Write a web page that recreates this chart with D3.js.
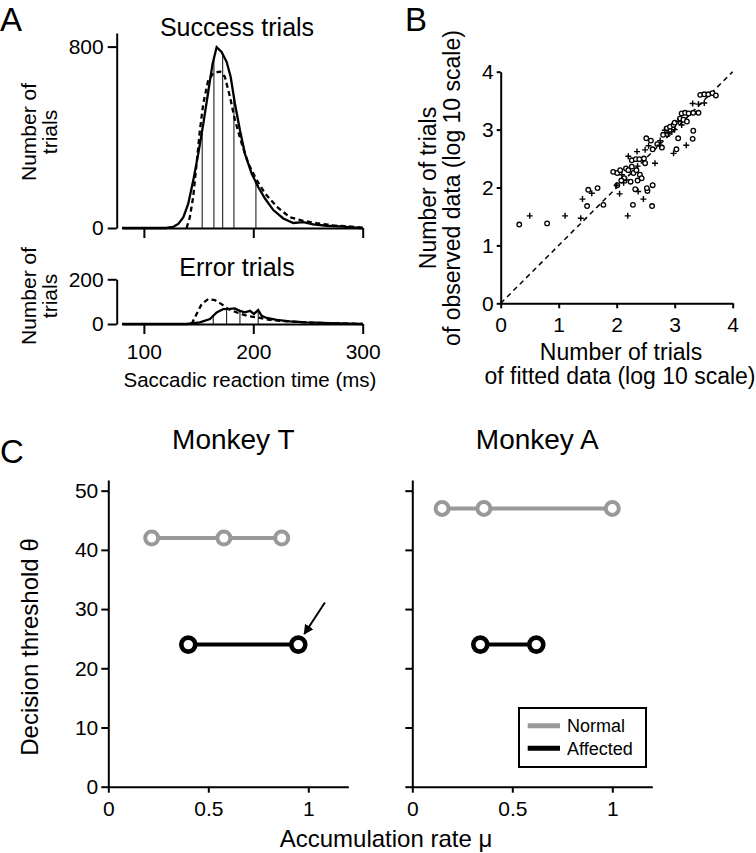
<!DOCTYPE html>
<html>
<head><meta charset="utf-8">
<title>Reaction time fits</title>
<style>
body { margin:0; background:#fff; }
svg { display:block; font-family:"Liberation Sans", Arial, Helvetica, sans-serif; }
.axis path, .axis line { stroke:#000; stroke-width:2; }
.axis text { font-size:21px; fill:#000; }
</style>
</head>
<body>
<svg width="756" height="853"></svg>
<script src="https://d3js.org/d3.v7.min.js"></script>
<script>
// ---- panel A: reaction time histograms (ms, number of trials) ----
var successObserved = [[80,0],[120,0],[126.8,5],[131.4,18],[136,47],[140.5,106],[145.1,209],[149.7,327],[154.3,459],
  [158.8,600],[162.8,725],[166.5,797],[171,776],[175.6,733],[179.3,667],[183.2,549],[187.8,431],[192.4,327],
  [198.5,240],[204.5,181],[210.7,130],[218.3,79],[227.4,42],[236.6,22],[245.7,26],[254.8,16],[267,10],[279,7],[297.6,0],[300,0]];
var successFitted = [[139,0],[142,47],[145.1,138],[148.2,285],[151.2,431],[154.3,549],[158.8,652],[163.4,682],
  [169.5,690],[174,667],[178.6,580],[183.2,477],[189.3,374],[195.4,285],[203,212],[210.7,153],[221.4,94],
  [233.5,47],[245.7,32],[257.9,21],[273.1,12],[294.5,4],[300,2]];
var successQuantiles = [153.3, 164, 172, 182.3, 202.4];

var errorObserved = [[80,0],[139,0],[151.2,7],[160.4,22],[166.5,52],[172.6,67],[178.6,68],[183,70],[187.8,59],
  [192.4,52],[197,59],[200.6,45],[204.5,62],[207.6,37],[212.2,27],[221.4,18],[233.5,12],[248.8,7],[270,4],[300,0]];
var errorFitted = [[143.6,0],[148.2,45],[152.8,89],[158.8,112],[164.9,107],[171,89],[177.1,67],[184.8,52],
  [193.9,37],[203,30],[215.2,18],[230.5,12],[251.8,6],[285.4,2],[300,0]];
var errorQuantiles = [163.4, 175.6, 187.8, 204.5];

var rtTicks = [100, 200, 300];

// ---- panel B: observed vs fitted counts (log10) ----
var fitCircles = [[0.32,1.36],[0.80,1.38],[1.49,1.68],[1.51,1.96],[1.67,1.99],[1.77,1.70],[2.01,2.04],[2.28,1.70],
  [2.32,1.97],[2.53,1.94],[2.61,1.68],[2.62,2.04],[1.94,2.27],[2.01,2.25],[2.06,2.30],[2.13,2.16],[2.16,2.33],
  [2.20,2.30],[2.26,2.36],[2.29,2.25],[2.34,2.30],[2.40,2.22],[2.43,2.16],[2.52,1.99],[2.08,2.12],[2.24,2.10],
  [2.36,2.12],[2.26,2.47],[2.33,2.49],[2.39,2.49],[2.47,2.50],[2.49,2.42],[2.51,2.85],[2.59,2.81],[2.62,2.66],
  [2.78,2.69],[2.70,2.75],[3.03,2.66],[3.31,2.84],[3.32,2.98],[3.06,2.85],[2.86,3.02],[2.92,3.05],[2.98,3.08],
  [2.80,2.91],[2.88,2.92],[3.00,3.12],[3.12,3.28],[3.18,3.29],[3.24,3.28],[3.32,3.29],[3.41,3.29],[3.09,3.19],
  [3.15,3.17],[3.21,3.14],[3.44,3.60],[3.51,3.61],[3.58,3.61],[3.65,3.63],[3.71,3.59]];
var fitPluses = [[0.50,1.51],[1.11,1.51],[1.38,1.47],[1.41,1.80],[1.57,1.90],[2.05,1.89],[2.19,1.51],[2.37,1.93],
  [2.46,1.80],[2.09,2.22],[2.17,2.13],[2.00,2.04],[2.12,2.08],[2.20,2.54],[2.36,2.37],[2.66,2.42],[2.35,2.62],
  [2.49,2.65],[2.55,2.72],[2.74,2.73],[2.75,2.81],[2.98,2.59],[3.20,2.73],[2.83,2.99],[2.89,2.94],[2.95,2.96],
  [3.00,3.00],[3.06,3.14],[3.12,3.08],[3.31,3.45],[3.41,3.44],[3.51,3.46]];
var logTicks = [0, 1, 2, 3, 4];

// ---- panel C: accumulation rate vs decision threshold ----
var monkeyTNormal = [[0.217,42],[0.578,42],[0.867,42]];
var monkeyTAffected = [[0.40,24],[0.95,24]];
var monkeyANormal = [[0.149,47],[0.358,47],[1.0,47]];
var monkeyAAffected = [[0.34,24],[0.62,24]];
var muTicks = [0, 0.5, 1];
var thetaTicks = [0, 10, 20, 30, 40, 50];
var arrowT = [[1.083,31.1],[0.98,25.8]];

var svg = d3.select("svg");

function label(x, y, txt, size, anchor) {
  return svg.append("text").attr("x", x).attr("y", y).attr("font-size", size)
    .attr("text-anchor", anchor || "middle").text(txt);
}
function vlabel(x, y, txt, size) {
  return svg.append("text").attr("transform", "translate(" + x + "," + y + ") rotate(-90)")
    .attr("font-size", size).attr("text-anchor", "middle").text(txt);
}
function interp(data, t) {
  for (var i = 1; i < data.length; i++) {
    if (data[i][0] >= t) {
      var a = data[i-1], b = data[i];
      return a[1] + (b[1] - a[1]) * (t - a[0]) / (b[0] - a[0]);
    }
  }
  return 0;
}

// panel letters
label(0, 31, "A", 33, "start");
label(405, 31, "B", 33, "start");
label(0, 463, "C", 33, "start");

// ===== Panel A =====
var xRT = d3.scaleLinear().domain([80, 300]).range([122, 362.7]);
var ySucc = d3.scaleLinear().domain([0, 860]).range([228, 33]);
var yErr = d3.scaleLinear().domain([0, 200]).range([324, 279.3]);

function rtPanel(yScale, yTicks, obs, fit, quant, showLabels) {
  var g = svg.append("g");
  var line = d3.line().x(function(d) { return xRT(d[0]); }).y(function(d) { return yScale(d[1]); });
  g.selectAll("line.q").data(quant).enter().append("line")
    .attr("x1", function(d) { return xRT(d); }).attr("x2", function(d) { return xRT(d); })
    .attr("y1", yScale(0)).attr("y2", function(d) { return yScale(interp(obs, d)); })
    .attr("stroke", "#222").attr("stroke-width", 1.1);
  g.append("path").datum(fit).attr("d", line).attr("fill", "none")
    .attr("stroke", "#000").attr("stroke-width", 2.3).attr("stroke-dasharray", "5,3.5");
  g.append("path").datum(obs).attr("d", line).attr("fill", "none")
    .attr("stroke", "#000").attr("stroke-width", 2.3);

  var ya = svg.append("g").attr("class", "axis").attr("transform", "translate(116.7,0)")
    .call(d3.axisLeft(yScale).tickValues(yTicks).tickSize(9).tickSizeOuter(0).tickFormat(d3.format("d")));
  ya.selectAll("text").attr("dx", "-1");
  var xa = svg.append("g").attr("class", "axis").attr("transform", "translate(0," + yScale(0) + ")")
    .call(d3.axisBottom(xRT).tickValues(rtTicks).tickSize(10).tickSizeOuter(0));
  if (!showLabels) xa.selectAll("text").remove();
  else xa.selectAll("text").attr("font-size", 22).attr("dy", "1.05em");
}
rtPanel(ySucc, [0, 800], successObserved, successFitted, successQuantiles, false);
rtPanel(yErr, [0, 200], errorObserved, errorFitted, errorQuantiles, true);
label(237, 36, "Success trials", 25);
label(237, 276, "Error trials", 25);
vlabel(36, 132, "Number of", 21);
vlabel(57, 132, "trials", 21);
vlabel(36, 296, "Number of", 21);
vlabel(57, 296, "trials", 21);
label(250, 387, "Saccadic reaction time (ms)", 20.5);

// ===== Panel B =====
var xLog = d3.scaleLinear().domain([0, 4]).range([500.7, 732.7]);
var yLog = d3.scaleLinear().domain([0, 4]).range([303.3, 71.7]);
svg.append("line").attr("x1", xLog(0)).attr("y1", yLog(0)).attr("x2", xLog(4)).attr("y2", yLog(4))
  .attr("stroke", "#000").attr("stroke-width", 1.5).attr("stroke-dasharray", "5,4");
svg.append("g").attr("class", "axis").attr("transform", "translate(" + xLog(0) + ",0)")
  .call(d3.axisLeft(yLog).tickValues(logTicks).tickSize(4).tickSizeOuter(0).tickFormat(d3.format("d")))
  .selectAll("text").attr("font-size", 22);
svg.append("g").attr("class", "axis").attr("transform", "translate(0," + yLog(0) + ")")
  .call(d3.axisBottom(xLog).tickValues(logTicks).tickSize(5).tickSizeOuter(0).tickFormat(d3.format("d")))
  .selectAll("text").attr("font-size", 22).attr("dy", "1.0em");
svg.append("g").selectAll("circle").data(fitCircles).enter().append("circle")
  .attr("cx", function(d) { return xLog(d[0]); }).attr("cy", function(d) { return yLog(d[1]); })
  .attr("r", 2.3).attr("fill", "#fff").attr("stroke", "#000").attr("stroke-width", 1.3);
svg.append("g").selectAll("path").data(fitPluses).enter().append("path")
  .attr("d", function(d) {
    var x = xLog(d[0]), y = yLog(d[1]);
    return "M" + (x - 3) + "," + y + "H" + (x + 3) + "M" + x + "," + (y - 3) + "V" + (y + 3);
  })
  .attr("stroke", "#000").attr("stroke-width", 1.4);
vlabel(436, 188, "Number of trials", 23);
vlabel(460, 188, "of observed data (log 10 scale)", 23);
label(621, 360, "Number of trials", 23);
label(620, 384, "of fitted data (log 10 scale)", 23);

// ===== Panel C =====
var yTheta = d3.scaleLinear().domain([0, 51.8]).range([786.7, 480]);

function monkeyPanel(x0, normal, affected, title, showY) {
  var x = d3.scaleLinear().domain([0, 1.2]).range([x0, x0 + 240]);
  var ya = svg.append("g").attr("class", "axis").attr("transform", "translate(" + x0 + ",0)")
    .call(d3.axisLeft(yTheta).tickValues(thetaTicks).tickSize(7).tickSizeOuter(0));
  ya.selectAll("text").attr("font-size", 22);
  if (!showY) ya.selectAll("text").remove();
  svg.append("g").attr("class", "axis").attr("transform", "translate(0," + yTheta(0) + ")")
    .call(d3.axisBottom(x).tickValues(muTicks).tickSize(6).tickFormat(d3.format("~g")).tickSizeOuter(0))
    .selectAll("text").attr("font-size", 22).attr("dy", "0.95em");
  var line = d3.line().x(function(d) { return x(d[0]); }).y(function(d) { return yTheta(d[1]); });
  [[normal, "#999", 6.5, 4], [affected, "#000", 7, 4.6]].forEach(function(s) {
    svg.append("path").datum(s[0]).attr("d", line).attr("fill", "none")
      .attr("stroke", s[1]).attr("stroke-width", 4);
    svg.append("g").selectAll("circle").data(s[0]).enter().append("circle")
      .attr("cx", function(d) { return x(d[0]); }).attr("cy", function(d) { return yTheta(d[1]); })
      .attr("r", s[2]).attr("fill", "#fff").attr("stroke", s[1]).attr("stroke-width", s[3]);
  });
  label(x0 + 125, 449, title, 28);
  return x;
}
var xT = monkeyPanel(108.3, monkeyTNormal, monkeyTAffected, "Monkey T", true);
var xA = monkeyPanel(412.3, monkeyANormal, monkeyAAffected, "Monkey A", false);

// arrow pointing at the Monkey T affected point
svg.append("defs").append("marker").attr("id", "arrowhead").attr("viewBox", "0 0 10 10")
  .attr("refX", 9).attr("refY", 5).attr("markerWidth", 5).attr("markerHeight", 5)
  .attr("markerUnits", "strokeWidth").attr("orient", "auto")
  .append("path").attr("d", "M0,0L10,5L0,10z").attr("fill", "#000");
svg.append("line").attr("x1", xT(arrowT[0][0])).attr("y1", yTheta(arrowT[0][1]))
  .attr("x2", xT(arrowT[1][0])).attr("y2", yTheta(arrowT[1][1]))
  .attr("stroke", "#000").attr("stroke-width", 2).attr("marker-end", "url(#arrowhead)");

vlabel(38, 647, "Decision threshold \u03b8", 24);
label(386, 847, "Accumulation rate \u03bc", 24);

// legend
var lg = svg.append("g").attr("transform", "translate(519,708)");
lg.append("rect").attr("width", 127).attr("height", 59).attr("fill", "#fff")
  .attr("stroke", "#000").attr("stroke-width", 2);
[["Normal", "#999"], ["Affected", "#000"]].forEach(function(d, i) {
  lg.append("line").attr("x1", 8.7).attr("x2", 41).attr("y1", 17.7 + i * 22.6).attr("y2", 17.7 + i * 22.6)
    .attr("stroke", d[1]).attr("stroke-width", 5);
  lg.append("text").attr("x", 48).attr("y", 24 + i * 22.6).attr("font-size", 18).text(d[0]);
});
</script>
</body>
</html>
